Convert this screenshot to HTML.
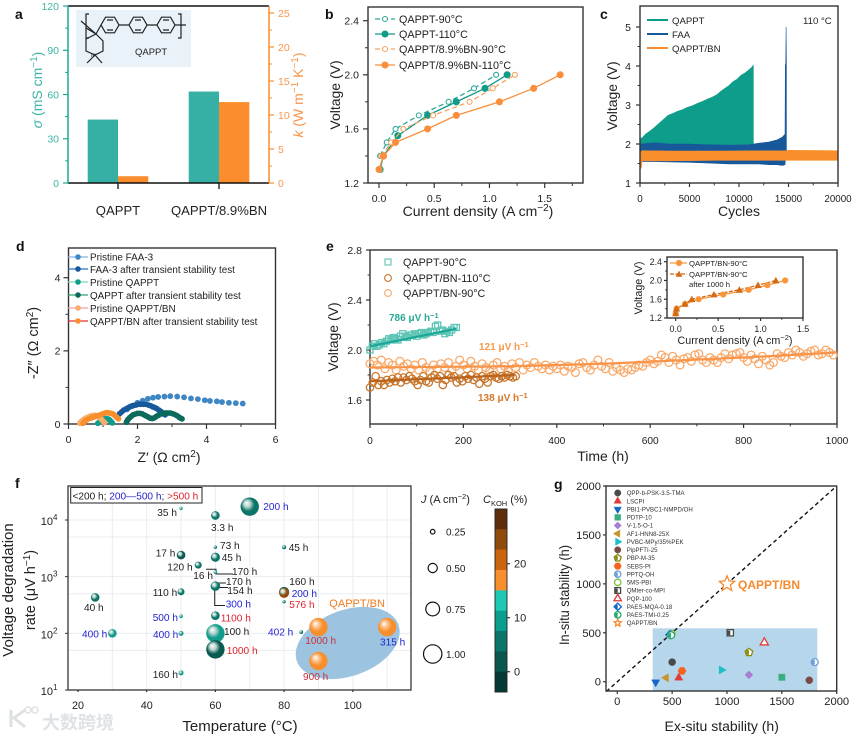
<!DOCTYPE html>
<html lang="en">
<head>
<meta charset="utf-8">
<title>QAPPT membrane performance figure</title>
<style>
html,body{margin:0;padding:0;background:#fff;width:862px;height:736px;overflow:hidden}
svg{display:block;filter:blur(.35px)}
text{font-family:"Liberation Sans","DejaVu Sans","Noto Sans CJK SC",sans-serif;fill:#222}
.pl{font-weight:bold;font-size:14px;fill:#111}
.ti{font-size:14px}
.an{font-size:10.1px}
.bl{fill:#2424d0}
.rd{fill:#e0202c}
.frame{fill:none;stroke:#333;stroke-width:1.4}
</style>
</head>
<body>
<svg id="fig" xmlns="http://www.w3.org/2000/svg" width="862" height="736" viewBox="0 0 862 736">
<defs id="defs"></defs>

<!-- PANEL A -->
<g id="pa">
  <text class="pl" x="15" y="19">a</text>
  <rect x="76" y="10" width="115" height="57" fill="#eaf2f9"/>
  <g id="molecule" fill="none" stroke="#222" stroke-width="1.2">
    <polygon points="101,25 105.5,17.2 114.5,17.2 119,25 114.5,32.8 105.5,32.8"/>
    <polygon points="129,25 133.5,17.2 142.5,17.2 147,25 142.5,32.8 133.5,32.8"/>
    <polygon points="157,25 161.5,17.2 170.5,17.2 175,25 170.5,32.8 161.5,32.8"/>
    <path d="M107,20L113,20M107,30L113,30M135,20L141,20M135,30L141,30M163,20L169,20M163,30L169,30M119,25L129,25M147,25L157,25M175,25L186,25"/>
    <path d="M89,14L86,14L86,38L89,38M178,14L181,14L181,38L178,38"/>
    <path d="M81,21L96,34L101,25M86,28L96,34M96,34L103,41L103,51L95,55L86,51L86,39L96,34M95,55L87,63M95,55L102,63"/>
  </g>
  <text x="135" y="55" font-size="9.5">QAPPT</text>
  <text x="91" y="57" font-size="5">N⁺</text>
  <g id="a-marks"></g>
  <line x1="68" y1="6" x2="269" y2="6" stroke="#111" stroke-width="1.4"/>
  <line x1="68" y1="183" x2="269" y2="183" stroke="#111" stroke-width="1.4"/>
  <line x1="68" y1="6" x2="68" y2="183" stroke="#1aa898" stroke-width="1.5"/>
  <line x1="269" y1="6" x2="269" y2="183" stroke="#f98f2c" stroke-width="1.5"/>
  <g id="a-axes"></g>
  <text class="ti" transform="translate(42,90) rotate(-90)" text-anchor="middle" style="fill:#3db5a6"><tspan font-style="italic" style="fill:#3db5a6">σ</tspan> (mS cm<tspan dy="-5" font-size="10" style="fill:#3db5a6">−1</tspan><tspan dy="5" style="fill:#3db5a6">)</tspan></text>
  <text class="ti" transform="translate(303,95) rotate(-90)" text-anchor="middle" style="fill:#f9954a"><tspan font-style="italic" style="fill:#f9954a">k</tspan> (W m<tspan dy="-5" font-size="10" style="fill:#f9954a">−1</tspan><tspan dy="5" style="fill:#f9954a"> K</tspan><tspan dy="-5" font-size="10" style="fill:#f9954a">−1</tspan><tspan dy="5" style="fill:#f9954a">)</tspan></text>
</g>

<!-- PANEL B -->
<g id="pb">
  <text class="pl" x="325" y="19">b</text>
  <rect class="frame" x="368" y="7" width="215" height="176"/>
  <g id="b-axes"></g><g id="b-marks"></g>
  <text x="399" y="23" font-size="10.8">QAPPT-90°C</text>
  <text x="399" y="38" font-size="10.8">QAPPT-110°C</text>
  <text x="399" y="53" font-size="10.8">QAPPT/8.9%BN-90°C</text>
  <text x="399" y="69" font-size="10.8">QAPPT/8.9%BN-110°C</text>
  <text class="ti" x="478" y="216" text-anchor="middle">Current density (A cm<tspan dy="-5" font-size="10">−2</tspan><tspan dy="5">)</tspan></text>
  <text class="ti" transform="translate(340,95) rotate(-90)" text-anchor="middle">Voltage (V)</text>
</g>

<!-- PANEL C -->
<g id="pc">
  <text class="pl" x="600" y="19">c</text>
  <g id="c-marks"></g>
  <rect class="frame" x="640" y="6" width="198" height="177"/>
  <g id="c-axes"></g>
  <line x1="647" y1="20" x2="668" y2="20" stroke="#0f9d8b" stroke-width="2"/>
  <line x1="647" y1="34" x2="668" y2="34" stroke="#17589b" stroke-width="2"/>
  <line x1="647" y1="48" x2="668" y2="48" stroke="#f98f2c" stroke-width="2"/>
  <text x="672" y="24" font-size="9.6">QAPPT</text>
  <text x="672" y="38" font-size="9.6">FAA</text>
  <text x="672" y="52" font-size="9.6">QAPPT/BN</text>
  <text x="803" y="24" font-size="9.6">110 °C</text>
  <text class="ti" x="739" y="216" text-anchor="middle">Cycles</text>
  <text class="ti" transform="translate(617,96) rotate(-90)" text-anchor="middle">Voltage (V)</text>
</g>

<!-- PANEL D -->
<g id="pd">
  <text class="pl" x="16" y="251">d</text>
  <rect class="frame" x="68.5" y="248" width="207" height="176"/>
  <g id="d-axes"></g><g id="d-marks"></g>
  <text x="90" y="260.5" font-size="9.9">Pristine FAA-3</text>
  <text x="90" y="273" font-size="9.9">FAA-3 after transient stability test</text>
  <text x="90" y="286" font-size="9.9">Pristine QAPPT</text>
  <text x="90" y="299" font-size="9.9">QAPPT after transient stability test</text>
  <text x="90" y="312" font-size="9.9">Pristine QAPPT/BN</text>
  <text x="90" y="325" font-size="9.9">QAPPT/BN after transient stability test</text>
  <text class="ti" x="169" y="462" text-anchor="middle">Z′ (Ω cm<tspan dy="-5" font-size="10">2</tspan><tspan dy="5">)</tspan></text>
  <text font-size="14.5" transform="translate(38,343) rotate(-90)" text-anchor="middle">-Z″ (Ω cm<tspan dy="-5" font-size="10">2</tspan><tspan dy="5">)</tspan></text>
</g>

<!-- PANEL E -->
<g id="pe">
  <text class="pl" x="326" y="251">e</text>
  <rect class="frame" x="370" y="250" width="467" height="174"/>
  <g id="e-axes"></g><g id="e-marks"></g>
  <text x="403" y="266" font-size="10.8">QAPPT-90°C</text>
  <text x="403" y="282" font-size="10.8">QAPPT/BN-110°C</text>
  <text x="403" y="297" font-size="10.8">QAPPT/BN-90°C</text>
  <text x="389" y="321" font-size="10" font-weight="bold" style="fill:#2aa898">786 μV h<tspan dy="-3" font-size="7.5" style="fill:#2aa898">−1</tspan></text>
  <text x="479" y="350" font-size="10" font-weight="bold" style="fill:#f59a4a">121 μV h<tspan dy="-3" font-size="7.5" style="fill:#f59a4a">−1</tspan></text>
  <text x="478" y="401" font-size="10" font-weight="bold" style="fill:#d8792a">138 μV h<tspan dy="-3" font-size="7.5" style="fill:#d8792a">−1</tspan></text>
  <text class="ti" x="603" y="461" text-anchor="middle">Time (h)</text>
  <text class="ti" transform="translate(338,337) rotate(-90)" text-anchor="middle">Voltage (V)</text>

  <rect class="frame" x="667" y="257" width="136" height="61" style="fill:#fff"/>
  <g id="i-axes"></g><g id="i-marks"></g>
  <text x="689" y="266" font-size="7.7">QAPPT/BN-90°C</text>
  <text x="689" y="277" font-size="7.7">QAPPT/BN-90°C</text>
  <text x="689" y="287" font-size="7.7">after 1000 h</text>
  <text x="735" y="344" font-size="10.7" text-anchor="middle">Current density (A cm<tspan dy="-4" font-size="7.5">−2</tspan><tspan dy="4">)</tspan></text>
  <text transform="translate(642,288) rotate(-90)" font-size="10.7" text-anchor="middle">Voltage (V)</text>
</g>

<!-- PANEL F -->
<g id="pf">
  <text class="pl" x="15" y="488">f</text>
  <g id="f-grid"></g>
  <ellipse cx="347.7" cy="643" rx="54" ry="33" transform="rotate(-20 347.7 643)" fill="#9cc4e0"/>
  <path d="M206,569.3L216,569.3L216,574L233,574M216,583L226,583M218,587.5L228,587.5M214.7,587L214.7,605.5L225,605.5" fill="none" stroke="#222" stroke-width="1"/>
  <g id="f-marks"></g>
  <rect x="68" y="486" width="343" height="204" fill="none" stroke="#444" stroke-width="1.4"/>
  <rect x="70.7" y="487.5" width="131.3" height="15.5" fill="#fff" stroke="#222" stroke-width="1"/>
  <text x="72.5" y="499.5" font-size="10.1">&lt;200 h; <tspan class="bl">200—500 h</tspan>; <tspan class="rd">&gt;500 h</tspan></text>
  <g id="f-axes"></g>
  <g class="an">
    <text x="157.3" y="516">35 h</text>
    <text x="211" y="531">3.3 h</text>
    <text x="220" y="549">73 h</text>
    <text x="155.7" y="556.7">17 h</text>
    <text x="221.7" y="561">45 h</text>
    <text x="167.3" y="570.7">120 h</text>
    <text x="232" y="575">170 h</text>
    <text x="193.3" y="579">16 h</text>
    <text x="226" y="585">170 h</text>
    <text x="227.3" y="594">154 h</text>
    <text x="152.7" y="596">110 h</text>
    <text x="84" y="611">40 h</text>
    <text class="bl" x="225.7" y="607.7">300 h</text>
    <text class="bl" x="152.7" y="621">500 h</text>
    <text class="rd" x="220.7" y="621.7">1100 h</text>
    <text class="bl" x="82" y="637.7">400 h</text>
    <text class="bl" x="153" y="638">400 h</text>
    <text x="224" y="635">100 h</text>
    <text class="rd" x="226.7" y="654">1000 h</text>
    <text x="152.7" y="678">160 h</text>
    <text class="bl" x="263.3" y="510">200 h</text>
    <text x="288.7" y="551">45 h</text>
    <text x="289.3" y="585">160 h</text>
    <text class="bl" x="291.7" y="597">200 h</text>
    <text class="rd" x="289.3" y="608">576 h</text>
    <text class="bl" x="268" y="635.7">402 h</text>
    <text x="305.3" y="644" style="fill:#c8303c">1000 h</text>
    <text class="bl" x="380" y="645.7">315 h</text>
    <text x="303" y="680" style="fill:#c8303c">900 h</text>
  </g>
  <text x="329.3" y="607" font-size="11" style="fill:#ef7d22">QAPPT/BN</text>
  <text font-size="15" x="240" y="731" text-anchor="middle">Temperature (°C)</text>
  <text font-size="15" transform="translate(13,590) rotate(-90)" text-anchor="middle">Voltage degradation</text>
  <text font-size="14.5" transform="translate(35,590) rotate(-90)" text-anchor="middle">rate (μV h<tspan dy="-5" font-size="10">−1</tspan><tspan dy="5">)</tspan></text>
  <text x="421" y="503" font-size="11"><tspan font-style="italic">J</tspan> (A cm<tspan dy="-4" font-size="7.5">−2</tspan><tspan dy="4">)</tspan></text>
  <g id="f-size"></g>
  <text x="483" y="503" font-size="11"><tspan font-style="italic">C</tspan><tspan dy="3" font-size="7.5">KOH</tspan><tspan dy="-3"> (%)</tspan></text>
  <g id="f-cbar"></g>
</g>

<!-- PANEL G -->
<g id="pg">
  <text class="pl" x="554" y="489">g</text>
  <rect x="652.7" y="628.3" width="164.6" height="62.7" fill="#b6d6ec"/>
  <g id="g-marks"></g>
  <rect class="frame" x="606" y="486" width="230.7" height="205"/>
  <g id="g-axes"></g>
  <text x="738" y="589" font-size="12" font-weight="bold" style="fill:#f58a2e">QAPPT/BN</text>
  <text class="ti" x="721.7" y="731" text-anchor="middle">Ex-situ stability (h)</text>
  <text font-size="14" transform="translate(569,595) rotate(-90)" text-anchor="middle" textLength="100" lengthAdjust="spacingAndGlyphs">In-situ stability (h)</text>
</g>

<!-- WATERMARK -->
<g>
  <path d="M11,710L11,727M25,710L14,718L25,727" fill="none" stroke="#dde1e4" stroke-width="3"/>
  <circle cx="28" cy="710" r="3" fill="none" stroke="#dde1e4" stroke-width="1.5"/>
  <circle cx="35" cy="710" r="3" fill="none" stroke="#dde1e4" stroke-width="1.5"/>
  <text x="42" y="729" font-size="18" font-weight="bold" style="font-family:'Liberation Sans','Noto Sans CJK SC',sans-serif;fill:#dfe3e6">大数跨境</text>
</g>
</svg>

<script>
/* ---------- Panel a data ---------- */
const aCategories = ['QAPPT', 'QAPPT/8.9%BN'];
const aSigma = [43, 62];
const aK = [1, 11.9];
const aSigmaTicks = [0, 30, 60, 90, 120];
const aKTicks = [0, 5, 10, 15, 20, 25];

/* ---------- Panel b data ---------- */
const bQ90I = [0.01, 0.07, 0.15, 0.36, 0.63, 0.86, 1.06];
const bQ90V = [1.4, 1.5, 1.6, 1.7, 1.8, 1.9, 2.0];
const bQ110I = [0.01, 0.04, 0.17, 0.44, 0.70, 0.96, 1.16];
const bQ110V = [1.3, 1.4, 1.55, 1.7, 1.8, 1.9, 2.0];
const bB90I = [0.02, 0.11, 0.22, 0.49, 0.82, 1.03, 1.23];
const bB90V = [1.4, 1.5, 1.6, 1.7, 1.8, 1.9, 2.0];
const bB110I = [0.0, 0.04, 0.15, 0.44, 0.70, 1.09, 1.40, 1.64];
const bB110V = [1.3, 1.4, 1.5, 1.6, 1.7, 1.8, 1.9, 2.0];
const bYTicks = [1.2, 1.6, 2.0, 2.4];
const bXTicks = [0, 0.5, 1.0, 1.5];

/* ---------- Panel c data ---------- */
const cQCycles = [0, 300, 600, 1000, 1400, 1800, 2200, 2600, 2800, 3300, 3800, 4300, 4800, 5300, 5800, 6300, 6800, 7300, 7800, 8200, 8600, 9000, 9400, 9800, 10200, 10600, 11000, 11300, 11450];
const cQUpper = [2.12, 2.18, 2.26, 2.33, 2.41, 2.5, 2.59, 2.68, 2.73, 2.78, 2.84, 2.88, 2.94, 2.98, 3.04, 3.09, 3.15, 3.2, 3.27, 3.36, 3.43, 3.5, 3.6, 3.66, 3.76, 3.82, 3.9, 3.97, 4.02];
const cQLower = 1.9;
const cFaaCycles = [0, 1500, 3000, 5000, 7000, 9000, 11000, 12000, 13000, 13800, 14400, 14650, 14680, 14720, 14760, 14790];
const cFaaUpper = [2.0, 2.03, 2.0, 2.0, 1.98, 1.97, 1.98, 2.02, 2.05, 2.1, 2.18, 2.25, 4.0, 4.1, 5.0, 4.0];
const cFaaLower = [1.55, 1.55, 1.54, 1.53, 1.51, 1.49, 1.49, 1.49, 1.47, 1.47, 1.45, 1.47, 1.6, 1.6, 1.7, 1.7];
const cBnCycles = [0, 150, 200, 3000, 8000, 14800, 15000, 20000];
const cBnUpper = [1.8, 1.8, 1.83, 1.82, 1.82, 1.83, 1.84, 1.83];
const cBnLower = [1.35, 1.4, 1.57, 1.57, 1.58, 1.58, 1.58, 1.58];
const cXTicks = [0, 5000, 10000, 15000, 20000];
const cYTicks = [1, 2, 3, 4, 5];

/* ---------- Panel d data ---------- */
const dFaaP = [1.7,.4, 1.85,.5, 2.0,.58, 2.15,.64, 2.3,.69, 2.45,.72, 2.6,.74, 2.78,.75, 2.95,.76, 3.15,.75, 3.35,.73, 3.55,.7, 3.75,.68, 3.95,.65, 4.1,.63, 4.3,.62, 4.45,.6, 4.65,.58, 4.85,.57, 5.05,.56];
const dFaaA = [1.48,.28, 1.54,.33, 1.6,.38, 1.66,.41, 1.72,.44, 1.78,.47, 1.84,.49, 1.9,.51, 1.96,.52, 2.03,.54, 2.1,.54, 2.17,.54, 2.24,.54, 2.31,.52, 2.38,.5, 2.44,.47, 2.5,.45, 2.56,.42, 2.62,.38, 2.68,.34, 2.74,.3, 2.8,.25];
const dQP = [0.85,.02, 0.89,.05, 0.93,.08, 0.97,.1, 1.01,.12, 1.05,.14, 1.09,.15, 1.13,.14, 1.17,.13, 1.2,.1, 1.24,.06, 1.27,.03];
const dQA = [1.68,.05, 1.7,.09, 1.73,.13, 1.77,.17, 1.82,.21, 1.87,.25, 1.93,.27, 2.0,.29, 2.07,.29, 2.13,.28, 2.19,.25, 2.25,.22, 2.31,.19, 2.37,.16, 2.43,.15, 2.49,.17, 2.55,.21, 2.61,.24, 2.67,.27, 2.74,.29, 2.81,.3, 2.88,.3, 2.95,.3, 3.02,.28, 3.08,.26, 3.14,.23, 3.2,.19, 3.25,.16, 3.29,.14];
const dBP = [.33,.02, .36,.06, .4,.09, .45,.13, .5,.16, .55,.18, .6,.2, .65,.22, .7,.23, .75,.24, .8,.23, .85,.21, .9,.18, .95,.13, 1.0,.08, 1.04,.04];
const dBA = [.42,.02, .47,.07, .52,.11, .58,.14, .64,.16, .7,.18, .76,.2, .82,.22, .88,.24, .94,.26, 1.0,.28, 1.06,.3, 1.12,.31, 1.18,.3, 1.24,.29, 1.3,.27, 1.35,.22, 1.4,.18, 1.45,.14];
const dXTicks = [0, 2, 4, 6];
const dYTicks = [0, 2, 4];

/* ---------- Panel e data ---------- */
const eQ90Step = 5;
const eQ90V = [2.0,2.03,2.05,2.03,2.04,2.06,2.05,2.07,2.09,2.08,2.10,2.09,2.08,2.11,2.13,2.11,2.10,2.12,2.12,2.13,2.11,2.13,2.14,2.12,2.13,2.14,2.15,2.14,2.19,2.2,2.15,2.16,2.13,2.15,2.14,2.16,2.18,2.18];
const eB110Step = 6;
const eB110V = [1.70,1.74,1.79,1.72,1.75,1.72,1.76,1.74,1.77,1.75,1.78,1.74,1.78,1.76,1.79,1.77,1.75,1.72,1.76,1.79,1.75,1.74,1.78,1.80,1.77,1.79,1.72,1.76,1.80,1.78,1.79,1.74,1.77,1.75,1.79,1.77,1.80,1.76,1.78,1.73,1.79,1.77,1.74,1.79,1.80,1.78,1.77,1.79,1.78,1.80,1.79,1.78,1.79];
const eB90Step = 8;
const eB90V = [1.89,1.91,1.88,1.92,1.85,1.90,1.88,1.84,1.91,1.87,1.89,1.85,1.88,1.84,1.90,1.86,1.83,1.88,1.85,1.89,1.86,1.90,1.84,1.87,1.92,
1.88,1.85,1.91,1.87,1.84,1.89,1.86,1.83,1.88,1.90,1.85,1.87,1.83,1.89,1.86,1.90,1.84,1.88,1.86,1.90,1.87,1.85,1.88,1.84,1.87,
1.85,1.88,1.83,1.87,1.86,1.82,1.89,1.90,1.86,1.84,1.88,1.92,1.87,1.85,1.90,1.83,1.86,1.84,1.82,1.85,1.84,1.86,1.88,1.87,1.90,
1.92,1.89,1.91,1.96,1.94,1.90,1.95,1.92,1.88,1.93,1.94,1.91,1.96,1.97,1.92,1.90,1.94,1.92,1.90,1.94,1.97,1.93,1.96,1.97,1.98,
1.94,1.91,1.96,1.93,1.89,1.95,1.92,1.88,1.90,1.97,1.95,1.94,1.98,1.96,2.0,1.98,1.95,1.97,1.99,2.0,1.96,1.97,2.0,1.98,1.96];
const eFitQTime = [0, 185];
const eFitQV = [2.03, 2.17];
const eFitB110Time = [0, 310];
const eFitB110V = [1.75, 1.80];
const eFitB90Time = [0, 300, 500, 800, 1000];
const eFitB90V = [1.86, 1.87, 1.89, 1.94, 1.98];
const eXTicks = [0, 200, 400, 600, 800, 1000];
const eYTicks = [1.6, 2.0, 2.4, 2.8];
const iCircleI = [0, 0.01, 0.11, 0.27, 0.56, 0.86, 1.08, 1.29];
const iCircleV = [1.3, 1.4, 1.5, 1.6, 1.7, 1.8, 1.9, 2.0];
const iTriI = [0, 0.01, 0.11, 0.19, 0.45, 0.75, 0.97, 1.18];
const iTriV = [1.3, 1.4, 1.5, 1.6, 1.7, 1.8, 1.9, 2.0];
const iXTicks = [0, 0.5, 1.0, 1.5];
const iYTicks = [1.2, 1.6, 2.0, 2.4];

/* ---------- Panel f data ---------- */
const fTemps = [70, 60, 50, 60, 50, 60, 55, 60, 60, 50, 25, 50, 60, 30, 50, 60, 60, 50, 80, 80, 80, 85];
const fRates = [17200, 12000, 16000, 3300, 2400, 2200, 1600, 1200, 680, 540, 430, 200, 205, 100, 100, 100, 52, 20, 3300, 520, 360, 105];
const fCurrents = [1.0, 0.47, 0.18, 0.18, 0.47, 0.5, 0.38, 0.2, 0.52, 0.38, 0.47, 0.2, 0.47, 0.47, 0.27, 1.0, 1.0, 0.27, 0.22, 0.55, 0.18, 0.2];
const fKoh = [5, 5, 10, 5, 0, 5, 5, 10, 5, 5, 5, 10, 5, 10, 10, 10, 0, 10, 5, 25, 5, 5];
const fBnTemps = [90, 110, 90];
const fBnRates = [129, 129, 32.5];
const fBnCurrents = [1.0, 1.0, 1.0];
const fBnKoh = [20, 20, 20];
const fXTicks = [20, 40, 60, 80, 100];
const fXGrid = [30, 40, 50, 60, 70, 80, 90, 100, 110];
const fYExponents = [1, 2, 3, 4];
const fYGrid = [50, 100, 500, 1000, 5000, 10000];
const fSizeLegend = [0.25, 0.50, 0.75, 1.00];
const fCbarValues = [25, 20, 15, 10, 5, 0];
const fCbarTicks = [0, 10, 20];

/* ---------- Panel g data ---------- */
const gNames = ['QPP-b-PSK-3.5-TMA','LSCPI','PBI1-PVBC1-NMPD/OH','PDTP-10','V-1.5-O-1','AF1-HNN8-25X','PVBC-MPy/35%PEK','PipPFTI-25','PBP-M-35','SEBS-PI','PPTQ-OH','5MS-PBI','QMter-co-MPI','PQP-100','PAES-MQA-0.18','PAES-TMI-0.25','QAPPT/BN'];
const gExSitu = [500, 560, 350, 1500, 1200, 445, 950, 1750, 1200, 590, 1800, 495, 1030, 1340, 480, 490, 1000];
const gInSitu = [200, 40, -5, 45, 70, 40, 120, 15, 300, 110, 200, 490, 500, 400, 480, 475, 1000];
const gXTicks = [0, 500, 1000, 1500, 2000];
const gYTicks = [0, 500, 1000, 1500, 2000];
const gDiagonal = [-100, 2000];

/* ---------- helpers ---------- */
const NS = 'http://www.w3.org/2000/svg';
const $ = id => document.getElementById(id);
function add(parent, tag, attrs, txt) {
  const n = document.createElementNS(NS, tag);
  for (const k in attrs) n.setAttribute(k, attrs[k]);
  if (txt !== undefined) n.textContent = txt;
  parent.appendChild(n);
  return n;
}
const linear = (d0, d1, r0, r1) => v => r0 + (v - d0) * (r1 - r0) / (d1 - d0);
const log10Scale = (d0, r0, perDecade) => v => r0 - (Math.log10(v) - d0) * perDecade;

/* axis helper: o = {side,pos,vals,minor,fmt,color,font,len,offset} */
function drawAxis(parent, scale, o) {
  const len = o.len === undefined ? 5 : o.len;
  const color = o.color || '#333';
  const font = o.font || 10.5;
  const off = o.offset === undefined ? 8 : o.offset;
  (o.minor || []).forEach(v => {
    const p = scale(v);
    let a;
    if (o.side === 'bottom') a = {x1:p, x2:p, y1:o.pos, y2:o.pos + len * .6};
    else if (o.side === 'left') a = {x1:o.pos, x2:o.pos - len * .6, y1:p, y2:p};
    else a = {x1:o.pos, x2:o.pos + len * .6, y1:p, y2:p};
    a.stroke = color; a['stroke-width'] = 1;
    const mt = add(parent, 'line', a);
    
    
  });
  o.vals.forEach(v => {
    const p = scale(v);
    let a, t;
    if (o.side === 'bottom') {
      a = {x1:p, x2:p, y1:o.pos, y2:o.pos + len};
      t = {x:p, y:o.pos + off, 'text-anchor':'middle'};
    } else if (o.side === 'left') {
      a = {x1:o.pos, x2:o.pos - len, y1:p, y2:p};
      t = {x:o.pos - off, y:p + font * .36, 'text-anchor':'end'};
    } else {
      a = {x1:o.pos, x2:o.pos + len, y1:p, y2:p};
      t = {x:o.pos + off, y:p + font * .36, 'text-anchor':'start'};
    }
    a.stroke = color; a['stroke-width'] = 1.2;
    const tick = add(parent, 'line', a);
    
    
    t['font-size'] = font;
    if (o.textColor) t.style = 'fill:' + o.textColor;
    const lab = add(parent, 'text', t, o.fmt ? o.fmt(v) : String(v));
    
    
  });
}
const f1 = v => v.toFixed(1);
const polyline = pts => pts.map(p => p[0].toFixed(2) + ',' + p[1].toFixed(2)).join(' ');
function zip(xs, ys, sx, sy) { return xs.map((x, i) => [sx(x), sy(ys[i])]); }

/* ---------- Panel a ---------- */
(function () {
  const m = $('a-marks'), ax = $('a-axes');
  const ySig = linear(0, 120, 183, 6), yK = linear(0, 26, 183, 6.2);
  const center = i => 118 + i * 101;
  const barW = 30.3;
  aCategories.forEach((c, i) => {
    const r1 = add(m, 'rect', {x:center(i) - barW, y:ySig(aSigma[i]), width:barW, height:183 - ySig(aSigma[i]), fill:'#36b0a5'});
    
    
    const r2 = add(m, 'rect', {x:center(i), y:yK(aK[i]), width:barW, height:183 - yK(aK[i]), fill:'#fb8d2e'});
    
    
    const tk = add(ax, 'line', {x1:center(i), x2:center(i), y1:183, y2:189, stroke:'#111', 'stroke-width':1.3});
    
    
    const lb = add(ax, 'text', {x:center(i), y:215, 'text-anchor':'middle', 'font-size':13.1}, c);
    
    
  });
  drawAxis(ax, ySig, {side:'left', pos:68, vals:aSigmaTicks, minor:[15,45,75,105], color:'#1aa898', textColor:'#3db5a6', offset:9});
  drawAxis(ax, yK, {side:'right', pos:269, vals:aKTicks, minor:[2.5,7.5,12.5,17.5,22.5], color:'#f98f2c', textColor:'#f9954a', offset:9});
})();

/* ---------- Panel b ---------- */
(function () {
  const m = $('b-marks'), ax = $('b-axes');
  const x = linear(0, 1.5, 379, 544.7), y = linear(1.2, 2.4, 183, 20.7);
  drawAxis(ax, x, {side:'bottom', pos:183, vals:bXTicks, minor:[.25,.75,1.25,1.75], fmt:f1, offset:19});
  drawAxis(ax, y, {side:'left', pos:368, vals:bYTicks, minor:[1.4,1.8,2.2], fmt:f1, offset:9});
  const series = [
    {I:bQ90I, V:bQ90V, c:'#2aa898', dash:'5 3', open:true, ly:19},
    {I:bQ110I, V:bQ110V, c:'#119a88', dash:'', open:false, ly:34},
    {I:bB90I, V:bB90V, c:'#f4a460', dash:'5 3', open:true, ly:49},
    {I:bB110I, V:bB110V, c:'#f98f3c', dash:'', open:false, ly:65}
  ];
  series.forEach(s => {
    const pts = zip(s.I, s.V, x, y);
    const ln = add(m, 'polyline', {points:polyline(pts), fill:'none', stroke:s.c, 'stroke-width':1.3, 'stroke-dasharray':s.dash});
    
    
    pts.forEach(p => {
      const d = add(m, 'circle', {cx:p[0], cy:p[1], r:s.open ? 2.5 : 3, fill:s.open ? '#fff' : s.c, stroke:s.c, 'stroke-width':1.1});
      
      
    });
    const ll = add(m, 'line', {x1:375, x2:395, y1:s.ly, y2:s.ly, stroke:s.c, 'stroke-width':1.3, 'stroke-dasharray':s.dash});
    
    
    const lm = add(m, 'circle', {cx:385, cy:s.ly, r:s.open ? 2.5 : 3, fill:s.open ? '#fff' : s.c, stroke:s.c, 'stroke-width':1.1});
    
    
  });
})();

/* ---------- Panel c ---------- */
(function () {
  const m = $('c-marks'), ax = $('c-axes');
  const x = linear(0, 20000, 640, 838), y = linear(1, 5, 183, 27);
  const band = (xs, up, lo, col, name) => {
    const top = xs.map((c, i) => [x(c), y(up[i])]);
    const bot = xs.map((c, i) => [x(c), y(Array.isArray(lo) ? lo[i] : lo)]).reverse();
    const b = add(m, 'polygon', {points:polyline(top.concat(bot)), fill:col, stroke:col, 'stroke-width':.6});
    
    
  };
  band(cQCycles, cQUpper, cQLower, '#0f9d8b', 'voltage-band-qappt');
  band(cFaaCycles, cFaaUpper, cFaaLower, '#17589b', 'voltage-band-faa');
  band(cBnCycles, cBnUpper, cBnLower, '#f98f2c', 'voltage-band-qappt-bn');
  drawAxis(ax, x, {side:'bottom', pos:183, vals:cXTicks, minor:[2500,7500,12500,17500], offset:19, len:4, font:9.8});
  drawAxis(ax, y, {side:'left', pos:640, vals:cYTicks, minor:[1.5,2.5,3.5,4.5], offset:9, len:4, font:10.5});
})();

/* ---------- Panel d ---------- */
(function () {
  const m = $('d-marks'), ax = $('d-axes');
  const x = linear(0, 6, 68.5, 275.5), y = linear(0, 4, 424, 277.7);
  drawAxis(ax, x, {side:'bottom', pos:424, vals:dXTicks, minor:[1,3,5], offset:19});
  drawAxis(ax, y, {side:'left', pos:68.5, vals:dYTicks, minor:[1,3], offset:8});
  const series = [
    {d:dFaaP, c:'#3f86c4', l:'#7db4e4', ly:257},
    {d:dFaaA, c:'#17589b', l:'#2a6fc0', ly:269},
    {d:dQP, c:'#0f9d8b', l:'#7ad8c0', ly:282},
    {d:dQA, c:'#0c6a5c', l:'#2fa070', ly:295},
    {d:dBP, c:'#f9ad6a', l:'#f0a0a0', ly:308},
    {d:dBA, c:'#f98f2c', l:'#e83030', ly:321}
  ];
  series.forEach(s => {
    for (let i = 0; i < s.d.length; i += 2) {
      const dot = add(m, 'circle', {cx:x(s.d[i]), cy:y(s.d[i + 1]), r:2.9, fill:s.c});
      
      
    }
    const ll = add(m, 'line', {x1:68, x2:88, y1:s.ly, y2:s.ly, stroke:s.l, 'stroke-width':1.2});
    
    
    const lm = add(m, 'circle', {cx:78, cy:s.ly, r:2.8, fill:s.c});
    
    
  });
})();

/* ---------- Panel e ---------- */
(function () {
  const m = $('e-marks'), ax = $('e-axes');
  const x = linear(0, 1000, 370, 837), y = linear(2.0, 2.8, 350, 250);
  drawAxis(ax, x, {side:'bottom', pos:424, vals:eXTicks, minor:[100,300,500,700,900], offset:20, len:4, font:10.2});
  drawAxis(ax, y, {side:'left', pos:370, vals:eYTicks, minor:[1.8,2.2,2.6], fmt:f1, offset:8, len:4});
  eB90V.forEach((v, i) => {
    const c = add(m, 'circle', {cx:x(i * eB90Step), cy:y(v), r:3.9, fill:'none', stroke:'#f9a868', 'stroke-width':1.25});
    
    
  });
  eB110V.forEach((v, i) => {
    const c = add(m, 'circle', {cx:x(i * eB110Step), cy:y(v), r:3.7, fill:'none', stroke:'#c8752a', 'stroke-width':1.25});
    
    
  });
  eQ90V.forEach((v, i) => {
    const c = add(m, 'rect', {x:x(i * eQ90Step) - 3, y:y(v) - 3, width:6, height:6, fill:'none', stroke:'#5cc4b5', 'stroke-width':1.25});
    
    
  });
  const f1l = add(m, 'polyline', {points:polyline(zip(eFitB90Time, eFitB90V, x, y)), fill:'none', stroke:'#f8954a', 'stroke-width':2.2});
  
  
  const f2l = add(m, 'polyline', {points:polyline(zip(eFitB110Time, eFitB110V, x, y)), fill:'none', stroke:'#b8641c', 'stroke-width':2.2});
  
  
  const f3l = add(m, 'polyline', {points:polyline(zip(eFitQTime, eFitQV, x, y)), fill:'none', stroke:'#1aa898', 'stroke-width':2.2});
  
  
  /* legend markers */
  const k1 = add(m, 'rect', {x:385, y:259, width:6, height:6, fill:'none', stroke:'#5cc4b5', 'stroke-width':1.1});
  
  
  const k2 = add(m, 'circle', {cx:388, cy:278, r:3.4, fill:'none', stroke:'#c8752a', 'stroke-width':1.1});
  
  
  const k3 = add(m, 'circle', {cx:388, cy:293, r:3.4, fill:'none', stroke:'#f9a868', 'stroke-width':1.1});
  
  

  /* inset */
  const im = $('i-marks'), ia = $('i-axes');
  const ix = linear(0, 1.5, 675.7, 803), iy = linear(1.2, 2.4, 318, 261.7);
  drawAxis(ia, ix, {side:'bottom', pos:318, vals:iXTicks, fmt:f1, minor:[.25,.75,1.25], font:8.9, offset:14, len:3});
  drawAxis(ia, iy, {side:'left', pos:667, vals:iYTicks, fmt:f1, minor:[1.4,1.8,2.2], font:8.9, offset:5, len:3});
  const tri = (cx, cy, s) => `${cx},${cy - s} ${cx + s},${cy + s * .8} ${cx - s},${cy + s * .8}`;
  const cpts = zip(iCircleI, iCircleV, ix, iy);
  const tpts = zip(iTriI, iTriV, ix, iy);
  const l1 = add(im, 'polyline', {points:polyline(cpts), fill:'none', stroke:'#f9963c', 'stroke-width':1.3});
  
  
  const l2 = add(im, 'polyline', {points:polyline(tpts), fill:'none', stroke:'#d06a14', 'stroke-width':1.3, 'stroke-dasharray':'4 1.5'});
  
  
  cpts.forEach(p => {
    const d = add(im, 'circle', {cx:p[0], cy:p[1], r:3.1, fill:'#f9963c'});
    
    
  });
  tpts.forEach(p => {
    const d = add(im, 'polygon', {points:tri(p[0], p[1], 3.6), fill:'#d06a14'});
    
    
  });
  const a1 = add(im, 'line', {x1:670, x2:687, y1:263, y2:263, stroke:'#f9963c', 'stroke-width':1.2});
  
  
  const a2 = add(im, 'circle', {cx:679, cy:263, r:3.1, fill:'#f9963c'});
  
  
  const a3 = add(im, 'line', {x1:670, x2:687, y1:274, y2:274, stroke:'#d06a14', 'stroke-width':1.2, 'stroke-dasharray':'4 1.5'});
  
  
  const a4 = add(im, 'polygon', {points:tri(679, 274, 3.4), fill:'#d06a14'});
  
  
})();

/* ---------- Panel f ---------- */
(function () {
  const m = $('f-marks'), ax = $('f-axes'), gr = $('f-grid'), defs = $('defs');
  const x = linear(20, 100, 78, 352.8);
  const y = log10Scale(1, 690, 56.67);
  const rad = j => j * 9.2;
  fXGrid.forEach(v => {
    const l = add(gr, 'line', {x1:x(v), x2:x(v), y1:486, y2:690, stroke:'#e9edf0', 'stroke-width':1});
    
    
  });
  fYGrid.forEach(v => {
    const l = add(gr, 'line', {x1:68, x2:411, y1:y(v), y2:y(v), stroke:'#e9edf0', 'stroke-width':1});
    
    
  });
  drawAxis(ax, x, {side:'bottom', pos:690, vals:fXTicks, font:10.8, offset:19, len:2});
  fYExponents.forEach(e => {
    const py = y(Math.pow(10, e));
    const tk = add(ax, 'line', {x1:68, x2:65, y1:py, y2:py, stroke:'#333', 'stroke-width':1});
    
    
    const t = add(ax, 'text', {x:53, y:py + 5, 'text-anchor':'end', 'font-size':11}, '10');
    
    
    const sup = add(ax, 'text', {x:53, y:py, 'font-size':8}, String(e));
    
    
  });
  /* colour map for CKOH */
  const shade = {0:'#0a5a50', 5:'#0d7568', 10:'#119c8c', 20:'#f98f2c', 25:'#8f4a0c'};
  Object.keys(shade).forEach(k => {
    const g = add(defs, 'radialGradient', {id:'sph' + k, cx:'.45', cy:'.45', r:'.6', fx:'.32', fy:'.3'});
    add(g, 'stop', {offset:'0', 'stop-color':'#fff'});
    add(g, 'stop', {offset:'.3', 'stop-color':k === '20' ? '#fcc28e' : '#b6d4cf'});
    add(g, 'stop', {offset:'.6', 'stop-color':shade[k]});
    add(g, 'stop', {offset:'1', 'stop-color':shade[k]});
  });
  const bubble = (t, rate, j, koh, name) => {
    const c = add(m, 'circle', {cx:x(t), cy:y(rate), r:rad(j), fill:'url(#sph' + koh + ')'});
    
    
  };
  /* dark bubble underneath the brown one at 80 C */
  const under = add(m, 'circle', {cx:x(80), cy:y(540), r:5, fill:'#0a5a50'});
  
  
  fTemps.forEach((t, i) => bubble(t, fRates[i], fCurrents[i], fKoh[i], 'bubble-literature'));
  fBnTemps.forEach((t, i) => bubble(t, fBnRates[i], fBnCurrents[i], fBnKoh[i], 'bubble-qappt-bn'));

  /* size legend */
  const sz = $('f-size');
  const sizeY = [531.7, 568, 609, 654];
  fSizeLegend.forEach((j, i) => {
    const c = add(sz, 'circle', {cx:432.7, cy:sizeY[i], r:rad(j), fill:'none', stroke:'#111', 'stroke-width':1.2});
    
    
    const t = add(sz, 'text', {x:446, y:sizeY[i] + 4, 'font-size':10}, j.toFixed(2));
    
    
  });

  /* colour bar */
  const cb = $('f-cbar');
  const cbarColors = ['#5c2f0a','#8f4a0c','#cc640e','#f98f2c','#1fc8b4','#0a9e8e','#0a766b','#0a574f','#053a34'];
  const cbY = linear(0, 20, 671.7, 563.7);
  const segH = 183 / cbarColors.length;
  cbarColors.forEach((col, i) => {
    const r = add(cb, 'rect', {x:495, y:509 + i * segH, width:12, height:segH + .3, fill:col});
    
    
  });
  const fr = add(cb, 'rect', {x:495, y:509, width:12, height:183, fill:'none', stroke:'#222', 'stroke-width':.9});
  
  
  drawAxis(cb, cbY, {side:'right', pos:507, vals:fCbarTicks, len:3, offset:7, font:11});
})();

/* ---------- Panel g ---------- */
(function () {
  const m = $('g-marks'), ax = $('g-axes');
  const x = linear(0, 2000, 617.3, 836.7), y = linear(0, 2000, 681.7, 486);
  drawAxis(ax, x, {side:'bottom', pos:691, vals:gXTicks, font:11.2, offset:14, len:3});
  drawAxis(ax, y, {side:'left', pos:606, vals:gYTicks, font:11.2, offset:5, len:3});
  const dg = add(m, 'line', {x1:x(gDiagonal[0]), y1:y(gDiagonal[0]), x2:x(gDiagonal[1]), y2:y(gDiagonal[1]), stroke:'#111', 'stroke-width':1.4, 'stroke-dasharray':'4 3'});
  
  

  const poly = (n, r, cx, cy, rot) => {
    const a = [];
    for (let i = 0; i < n; i++) {
      const t = rot + i * 2 * Math.PI / n;
      a.push((cx + r * Math.cos(t)).toFixed(2) + ',' + (cy + r * Math.sin(t)).toFixed(2));
    }
    return a.join(' ');
  };
  const star = (r, cx, cy) => {
    const a = [];
    for (let i = 0; i < 10; i++) {
      const t = -Math.PI / 2 + i * Math.PI / 5;
      const rr = i % 2 ? r * .45 : r;
      a.push((cx + rr * Math.cos(t)).toFixed(2) + ',' + (cy + rr * Math.sin(t)).toFixed(2));
    }
    return a.join(' ');
  };
  const styles = [
    {k:'circle', c:'#4a4a4a'}, {k:'up', c:'#e03c3c'}, {k:'down', c:'#1668c8'}, {k:'square', c:'#3aae80'},
    {k:'diamond', c:'#a97fd6'}, {k:'left', c:'#c8952a'}, {k:'right', c:'#1cc0c8'}, {k:'circle', c:'#7a4a45'},
    {k:'pentagon', c:'#8a8a10', half:true}, {k:'hexagon', c:'#f4641e'}, {k:'circle', c:'#6aa0d8', half:true},
    {k:'circle', c:'#7ac040', open:true}, {k:'square', c:'#4a4a4a', half:true}, {k:'up', c:'#e03c3c', open:true},
    {k:'diamond', c:'#1668c8', half:true}, {k:'circle', c:'#2aa870', half:true}, {k:'star', c:'#f58a2e', open:true}
  ];
  const marker = (parent, st, cx, cy, r, name) => {
    let sh;
    const fill = st.open || st.half ? '#fff' : st.c;
    const common = {fill:fill, stroke:st.c, 'stroke-width':st.open || st.half ? 1.3 : .5};
    if (st.k === 'circle') sh = add(parent, 'circle', Object.assign({cx:cx, cy:cy, r:r}, common));
    else if (st.k === 'square') sh = add(parent, 'rect', Object.assign({x:cx - r * .9, y:cy - r * .9, width:r * 1.8, height:r * 1.8}, common));
    else if (st.k === 'star') sh = add(parent, 'polygon', Object.assign({points:star(r, cx, cy)}, common));
    else {
      const spec = {up:[3, -Math.PI / 2], down:[3, Math.PI / 2], left:[3, Math.PI], right:[3, 0], diamond:[4, 0], pentagon:[5, -Math.PI / 2], hexagon:[6, 0]}[st.k];
      const scale = spec[0] === 3 ? 1.35 : 1.15;
      sh = add(parent, 'polygon', Object.assign({points:poly(spec[0], r * scale, cx, cy, spec[1])}, common));
    }
    
    
    if (st.half) {
      const h = add(parent, 'path', {d:`M${cx - r * .8},${cy - r * .6}L${cx},${cy - r * .6}L${cx},${cy + r * .7}L${cx - r * .8},${cy + r * .7}Z`, fill:st.c});
      
      
    }
  };
  gNames.forEach((n, i) => {
    const st = styles[i];
    const isStar = st.k === 'star';
    marker(m, st, x(gExSitu[i]), y(gInSitu[i]), isStar ? 8 : 3.5, 'stability-point');
    const ly = 493 + i * 8.125;
    marker(m, st, 617.7, ly, isStar ? 3.8 : 3.2, 'legend-marker');
    const t = add(m, 'text', {x:626.7, y:ly + 2.2, 'font-size':6.1, style:'fill:#333'}, n);
    
    
  });
})();
</script>
</body>
</html>
